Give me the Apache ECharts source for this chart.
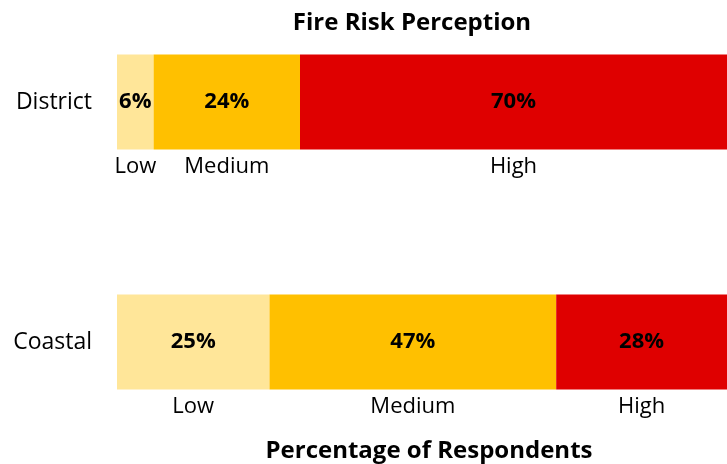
<!DOCTYPE html>
<html>
<head>
<meta charset="utf-8">
<script src="https://cdn.jsdelivr.net/npm/echarts@6/dist/echarts.min.js"></script>
<style>
  html, body { margin: 0; padding: 0; background: #fff; }
  #chart { width: 727px; height: 464px; }
</style>
</head>
<body>
<div id="chart"></div>
<script>
// Survey regions (top to bottom)
const regions = ['District', 'Coastal'];
// Risk levels and their share of respondents (%) per region
const levels = ['Low', 'Medium', 'High'];
const lowValues = [6, 25];
const mediumValues = [24, 47];
const highValues = [70, 28];
const levelColors = ['#FFE699', '#FFC000', '#DF0000'];

const valuesByLevel = [lowValues, mediumValues, highValues];
const FONT = '"Open Sans", "Liberation Sans", sans-serif';

const chart = echarts.init(document.getElementById('chart'), null, { renderer: 'canvas' });

const series = [];
// Visible stacked bars with the percentage inside each segment
levels.forEach((lvl, i) => {
  series.push({
    name: lvl,
    type: 'bar',
    stack: 'share',
    barWidth: 95,
    itemStyle: { color: levelColors[i] },
    label: {
      show: true,
      position: 'inside',
      formatter: p => p.value + '%',
      fontFamily: FONT,
      fontWeight: 'bold',
      fontSize: 22,
      color: '#000'
    },
    data: valuesByLevel[i]
  });
});
// Transparent copy of the same stack, used to write the level name beneath each segment
levels.forEach((lvl, i) => {
  series.push({
    name: lvl + ' name',
    type: 'bar',
    stack: 'names',
    barWidth: 95,
    barGap: '-100%',
    silent: true,
    itemStyle: { color: 'transparent' },
    label: {
      show: true,
      position: 'bottom',
      distance: 6,
      formatter: () => lvl,
      fontFamily: FONT,
      fontSize: 22,
      color: '#000'
    },
    data: valuesByLevel[i]
  });
});

chart.setOption({
  animation: false,
  title: [
    {
      text: 'Fire Risk Perception',
      left: 407,
      top: 6,
      textAlign: 'center',
      textStyle: { fontFamily: FONT, fontWeight: 'bold', fontSize: 24, color: '#000' }
    },
    {
      text: 'Percentage of Respondents',
      left: 424,
      top: 434,
      textAlign: 'center',
      textStyle: { fontFamily: FONT, fontWeight: 'bold', fontSize: 24, color: '#000' }
    }
  ],
  grid: { left: 117, right: -6, top: 102, bottom: 122, containLabel: false },
  xAxis: {
    type: 'value',
    min: 0,
    max: 100,
    show: false
  },
  yAxis: {
    type: 'category',
    inverse: true,
    boundaryGap: false,
    data: regions,
    axisLine: { show: false },
    axisTick: { show: false },
    axisLabel: {
      margin: 25,
      fontFamily: FONT,
      fontSize: 23,
      color: '#000'
    }
  },
  series: series
});
</script>
</body>
</html>
